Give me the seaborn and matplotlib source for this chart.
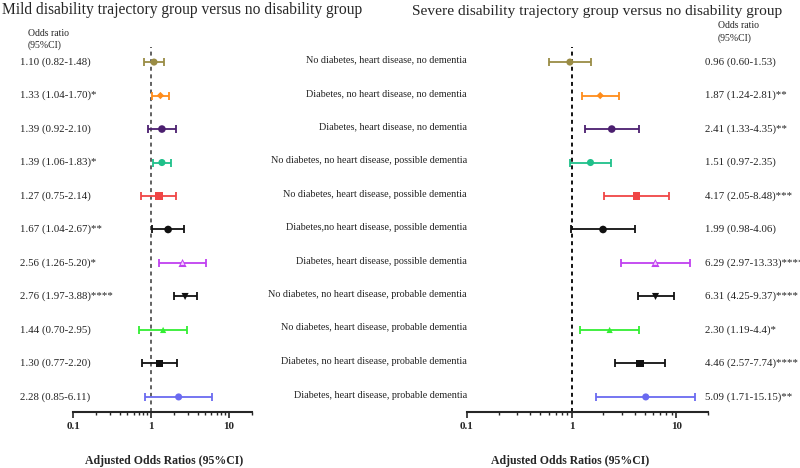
import matplotlib
matplotlib.use("Agg")
import matplotlib.pyplot as plt
import seaborn as sns
import pandas as pd

# rows, top to bottom
groups = [
    "No diabetes, heart disease, no dementia",
    "Diabetes, no heart disease, no dementia",
    "Diabetes, heart disease, no dementia",
    "No diabetes, no heart disease, possible dementia",
    "No diabetes, heart disease, possible dementia",
    "Diabetes,no heart disease, possible dementia",
    "Diabetes, heart disease, possible dementia",
    "No diabetes, no heart disease, probable dementia",
    "No diabetes, heart disease, probable dementia",
    "Diabetes, no heart disease, probable dementia",
    "Diabetes, heart disease, probable dementia",
]

mild_or = [1.10, 1.33, 1.39, 1.39, 1.27, 1.67, 2.56, 2.76, 1.44, 1.30, 2.28]
mild_lo = [0.82, 1.04, 0.92, 1.06, 0.75, 1.04, 1.26, 1.97, 0.70, 0.77, 0.85]
mild_hi = [1.48, 1.70, 2.10, 1.83, 2.14, 2.67, 5.20, 3.88, 2.95, 2.20, 6.11]
mild_txt = ["1.10 (0.82-1.48)", "1.33 (1.04-1.70)*", "1.39 (0.92-2.10)",
            "1.39 (1.06-1.83)*", "1.27 (0.75-2.14)", "1.67 (1.04-2.67)**",
            "2.56 (1.26-5.20)*", "2.76 (1.97-3.88)****", "1.44 (0.70-2.95)",
            "1.30 (0.77-2.20)", "2.28 (0.85-6.11)"]

severe_or = [0.96, 1.87, 2.41, 1.51, 4.17, 1.99, 6.29, 6.31, 2.30, 4.46, 5.09]
severe_lo = [0.60, 1.24, 1.33, 0.97, 2.05, 0.98, 2.97, 4.25, 1.19, 2.57, 1.71]
severe_hi = [1.53, 2.81, 4.35, 2.35, 8.48, 4.06, 13.33, 9.37, 4.4, 7.74, 15.15]
severe_txt = ["0.96 (0.60-1.53)", "1.87 (1.24-2.81)**", "2.41 (1.33-4.35)**",
              "1.51 (0.97-2.35)", "4.17 (2.05-8.48)***", "1.99 (0.98-4.06)",
              "6.29 (2.97-13.33)****", "6.31 (4.25-9.37)****", "2.30 (1.19-4.4)*",
              "4.46 (2.57-7.74)****", "5.09 (1.71-15.15)**"]

colors = ["#9a8c45", "#ff8c1a", "#4b1f6f", "#1fc08a", "#f04545", "#111111",
          "#c040f0", "#111111", "#33ee33", "#111111", "#6a6af0"]
markers = ["o", "D", "o", "o", "s", "o", "^", "v", "^", "s", "o"]
sizes = [26, 14, 30, 26, 30, 30, 34, 26, 20, 30, 26]

sns.set_style("ticks")
plt.rcParams["font.family"] = ["Liberation Serif", "DejaVu Serif"]

fig = plt.figure(figsize=(8, 4.68), dpi=100)
W, H = 800, 468


def px_axes(x0, x1, y0, y1):
    return fig.add_axes([x0 / W, 1 - y1 / H, (x1 - x0) / W, (y1 - y0) / H])


def draw_panel(ax, ors, los, his, line_color):
    df = pd.DataFrame({"group": groups, "row": range(len(groups)),
                       "or": ors, "lo": los, "hi": his})
    for i, r in df.iterrows():
        ax.errorbar([r["or"]], [r["row"]],
                    xerr=[[r["or"] - r["lo"]], [r["hi"] - r["or"]]],
                    fmt="none", ecolor=colors[i], elinewidth=1.3,
                    capsize=3.2, capthick=1.3, zorder=2)
    sns.scatterplot(data=df, x="or", y="row", hue="group", style="group",
                    palette=colors, markers=markers, size="group",
                    sizes=dict(zip(groups, sizes)), legend=False,
                    edgecolor="none", ax=ax, zorder=3)
    # open triangle for the possible-dementia diabetes/heart group
    sub = df.iloc[[6]]
    sns.scatterplot(data=sub, x="or", y="row", marker="^", s=8,
                    color="#f4d0ff", edgecolor="none", legend=False,
                    ax=ax, zorder=4)
    ax.axvline(1, color=line_color, lw=1.3, ls=(0, (2.2, 2)), zorder=1)
    ax.set_xscale("log")
    ax.set_xlim(0.1, 20)
    ax.set_ylim(10.45, -0.45)
    ax.set_xticks([0.1, 1, 10])
    ax.set_xticklabels(["0.1", "1", "10"], fontweight="bold", fontsize=8)
    ax.tick_params(axis="x", which="major", length=4, width=1.2, pad=3)
    ax.tick_params(axis="x", which="minor", length=2.5, width=1)
    ax.set_yticks([])
    ax.set_xlabel("")
    ax.set_ylabel("")
    for s in ["left", "top", "right"]:
        ax.spines[s].set_visible(False)
    ax.spines["bottom"].set_linewidth(1.5)
    ax.patch.set_alpha(0)


# left panel: mild disability
ax1 = px_axes(73, 252, 47, 412)
draw_panel(ax1, mild_or, mild_lo, mild_hi, "#555555")
for i, t in enumerate(mild_txt):
    ax1.text(20 / W, 1 - (62 + i * 33.5) / H, t, transform=fig.transFigure,
             fontsize=7.8, va="center", ha="left", color="#222222")

# right panel: severe disability
ax2 = px_axes(467, 708, 47, 412)
draw_panel(ax2, severe_or, severe_lo, severe_hi, "black")
for i, t in enumerate(severe_txt):
    fig.text(705 / W, 1 - (62 + i * 33.5) / H, t,
             fontsize=7.8, va="center", ha="left", color="#222222")

# middle group labels
for i, g in enumerate(groups):
    fig.text(467 / W, 1 - (60 + i * 33.5) / H, g, fontsize=7.3,
             va="center", ha="right", color="#222222")

# headers and titles
fig.text(2 / W, 1 - 10 / H, "Mild disability trajectory group versus no disability group",
         fontsize=11.2, va="center", ha="left")
fig.text(412 / W, 1 - 12 / H, "Severe disability trajectory group versus no disability group",
         fontsize=11.1, va="center", ha="left")
fig.text(28 / W, 1 - 33 / H, "Odds ratio", fontsize=7, va="center", ha="left")
fig.text(28 / W, 1 - 45 / H, "(95%CI)", fontsize=7, va="center", ha="left")
fig.text(718 / W, 1 - 26 / H, "Odds ratio", fontsize=7, va="center", ha="left")
fig.text(718 / W, 1 - 38 / H, "(95%CI)", fontsize=7, va="center", ha="left")

fig.text(164 / W, 1 - 461 / H, "Adjusted Odds Ratios (95%CI)", fontsize=8.5,
         fontweight="bold", va="center", ha="center")
fig.text(570 / W, 1 - 461 / H, "Adjusted Odds Ratios (95%CI)", fontsize=8.5,
         fontweight="bold", va="center", ha="center")

fig.savefig("out.png", dpi=100)
